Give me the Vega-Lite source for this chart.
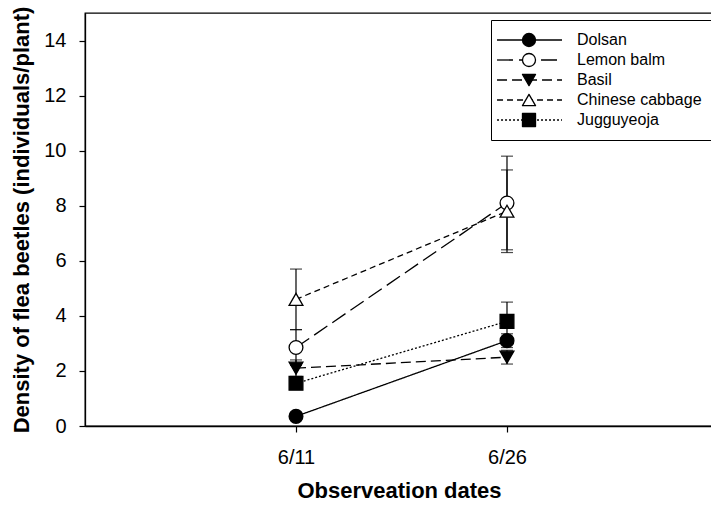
{
  "$schema": "https://vega.github.io/schema/vega-lite/v6.json",
  "width": 628,
  "height": 413,
  "autosize": {"type": "none"},
  "padding": {"left": 85, "top": 13, "right": 0, "bottom": 81},
  "background": "white",
  "config": {
    "font": "Liberation Sans",
    "view": {"stroke": "black", "strokeWidth": 1.3},
    "axis": {"domainColor": "black", "domainWidth": 1.3, "tickColor": "black", "tickWidth": 1.2, "labelColor": "black", "titleColor": "black", "grid": false, "labelFont": "Liberation Sans", "titleFont": "Liberation Sans"}
  },
  "data": {
    "values": [
      {"plant": "Dolsan", "date": "2020-06-11T00:00:00", "mean": 0.35, "se": 0.1},
      {"plant": "Dolsan", "date": "2020-06-26T00:00:00", "mean": 3.1, "se": 0.25},
      {"plant": "Lemon balm", "date": "2020-06-11T00:00:00", "mean": 2.85, "se": 0.65},
      {"plant": "Lemon balm", "date": "2020-06-26T00:00:00", "mean": 8.1, "se": 1.7},
      {"plant": "Basil", "date": "2020-06-11T00:00:00", "mean": 2.1, "se": 0.3},
      {"plant": "Basil", "date": "2020-06-26T00:00:00", "mean": 2.5, "se": 0.25},
      {"plant": "Chinese cabbage", "date": "2020-06-11T00:00:00", "mean": 4.6, "se": 1.1},
      {"plant": "Chinese cabbage", "date": "2020-06-26T00:00:00", "mean": 7.8, "se": 1.5},
      {"plant": "Jugguyeoja", "date": "2020-06-11T00:00:00", "mean": 1.55, "se": 0.15},
      {"plant": "Jugguyeoja", "date": "2020-06-26T00:00:00", "mean": 3.8, "se": 0.7}
    ]
  },
  "encoding": {
    "x": {
      "field": "date",
      "type": "temporal",
      "scale": {"domain": [{"year": 2020, "month": 5, "date": 27}, {"year": 2020, "month": 7, "date": 10, "hours": 15, "minutes": 29}]},
      "axis": {
        "values": [{"year": 2020, "month": 6, "date": 11}, {"year": 2020, "month": 6, "date": 26}],
        "format": "%-m/%-d",
        "tickSize": 6,
        "labelFontSize": 20,
        "labelPadding": 15,
        "labelAngle": 0,
        "title": "Observeation dates",
        "titleFontSize": 22,
        "titleFontWeight": "bold",
        "titleY": 54
      }
    },
    "y": {
      "field": "mean",
      "type": "quantitative",
      "scale": {"domain": [0, 15], "nice": false},
      "axis": {
        "values": [0, 2, 4, 6, 8, 10, 12, 14],
        "tickSize": 6,
        "labelFontSize": 20,
        "labelPadding": 13,
        "title": "Density of flea beetles (individuals/plant)",
        "titleFontSize": 22,
        "titleFontWeight": "bold",
        "titleX": -52
      }
    }
  },
  "layer": [
    {
      "mark": {"type": "errorbar", "ticks": {"size": 12, "thickness": 1.2, "color": "black"}, "rule": {"strokeWidth": 1.2, "color": "black"}},
      "encoding": {
        "yError": {"field": "se"}
      }
    },
    {
      "mark": {"type": "line", "color": "black", "strokeWidth": 1.3},
      "encoding": {
        "strokeDash": {
          "field": "plant",
          "type": "nominal",
          "sort": ["Dolsan", "Lemon balm", "Basil", "Chinese cabbage", "Jugguyeoja"],
          "scale": {"range": [[1, 0], [16, 6], [10, 5], [6, 4], [2, 2]]},
          "legend": {
            "title": null,
            "orient": "none",
            "legendX": 406,
            "legendY": 7,
            "symbolType": "M-2.15,0H7.85",
            "symbolSize": 169,
            "symbolStrokeColor": "black",
            "symbolStrokeWidth": 1.3,
            "labelFont": "Liberation Sans",
            "labelFontSize": 16,
            "labelColor": "black",
            "labelOffset": 58,
            "rowPadding": 4,
            "padding": 12,
            "strokeColor": "black",
            "fillColor": "white",
            "zindex": 0
          }
        }
      }
    },
    {
      "mark": {"type": "point", "size": 190, "stroke": "black", "strokeWidth": 1.3, "opacity": 1},
      "encoding": {
        "shape": {
          "field": "plant",
          "type": "nominal",
          "scale": {"domain": ["Dolsan", "Lemon balm", "Basil", "Chinese cabbage", "Jugguyeoja"], "range": ["circle", "circle", "triangle-down", "triangle-up", "square"]},
          "legend": {
            "title": null,
            "orient": "none",
            "legendX": 406,
            "legendY": 7,
            "symbolSize": 170,
            "symbolStrokeColor": "black",
            "symbolStrokeWidth": 1.3,
            "symbolOffset": 18,
            "symbolOpacity": 1,
            "labelFont": "Liberation Sans",
            "labelFontSize": 16,
            "labelExpr": "' '",
            "labelOffset": 58,
            "rowPadding": 4,
            "padding": 12,
            "zindex": 1,
            "encode": {"symbols": {"update": {"stroke": {"value": "black"}, "strokeWidth": {"value": 1.3}, "strokeJoin": {"value": "round"}}}}
          }
        },
        "fill": {
          "field": "plant",
          "type": "nominal",
          "scale": {"domain": ["Dolsan", "Lemon balm", "Basil", "Chinese cabbage", "Jugguyeoja"], "range": ["black", "white", "black", "white", "black"]},
          "legend": {
            "title": null,
            "orient": "none",
            "legendX": 406,
            "legendY": 7,
            "symbolSize": 170,
            "symbolStrokeColor": "black",
            "symbolStrokeWidth": 1.3,
            "symbolOffset": 18,
            "symbolOpacity": 1,
            "labelFont": "Liberation Sans",
            "labelFontSize": 16,
            "labelExpr": "' '",
            "labelOffset": 58,
            "rowPadding": 4,
            "padding": 12,
            "zindex": 1,
            "encode": {"symbols": {"update": {"stroke": {"value": "black"}, "strokeWidth": {"value": 1.3}, "strokeJoin": {"value": "round"}}}}
          }
        }
      }
    }
  ]
}
